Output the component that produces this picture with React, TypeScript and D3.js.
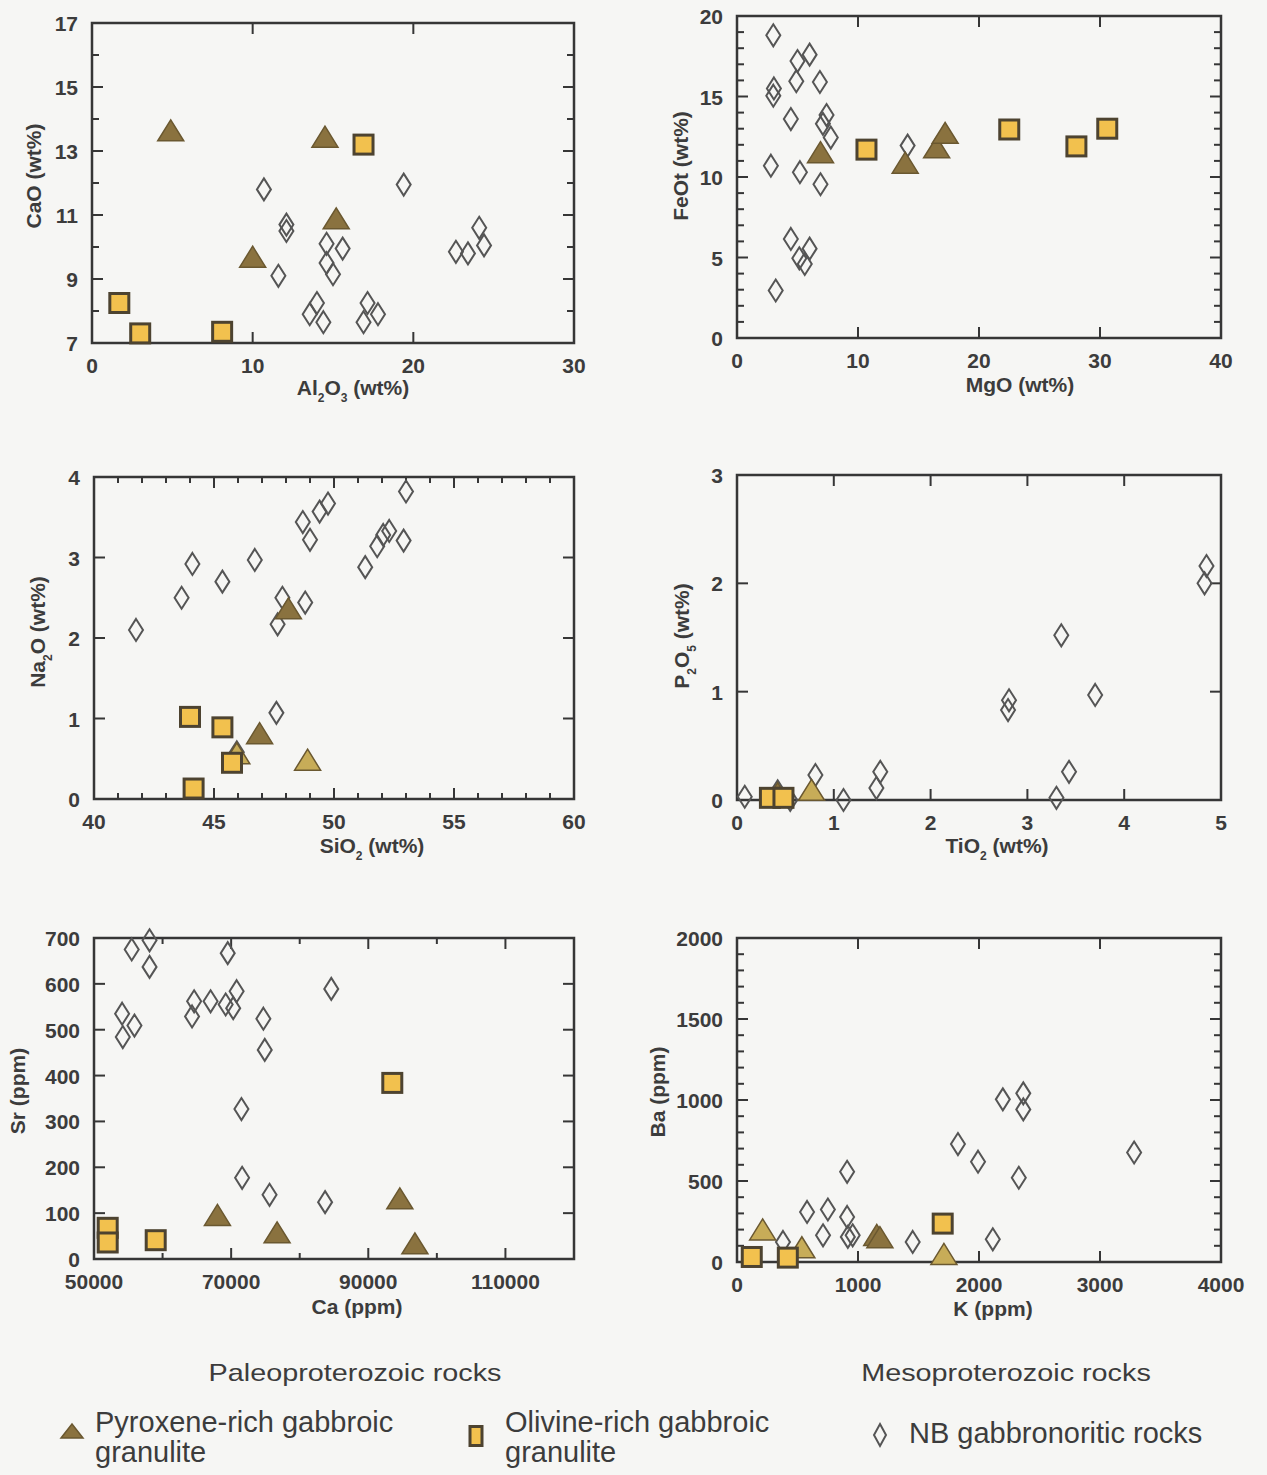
import React from 'react';
import * as d3 from 'd3';

type Pt = [number, number];

// Al2O3 vs CaO
const alCaPyx: Pt[] = [[4.9, 13.6], [14.5, 13.4], [15.2, 10.85], [10.0, 9.65]];
const alCaPyxPale: Pt[] = [];
const alCaOl: Pt[] = [[16.9, 13.2], [1.7, 8.25], [3.0, 7.3], [8.1, 7.35]];
const alCaNb: Pt[] = [
  [10.7, 11.8], [12.1, 10.7], [12.1, 10.5], [11.6, 9.1], [14.6, 10.1], [15.6, 9.95], [14.6, 9.5],
  [15.0, 9.15], [14.0, 8.25], [13.55, 7.9], [14.4, 7.65], [19.4, 11.95], [17.15, 8.25], [16.9, 7.65],
  [17.8, 7.9], [22.65, 9.85], [23.4, 9.8], [24.1, 10.6], [24.4, 10.05],
];

// MgO vs FeOt
const mgFePyx: Pt[] = [[6.9, 11.45], [13.9, 10.8], [16.5, 11.75], [17.2, 12.65]];
const mgFePyxPale: Pt[] = [];
const mgFeOl: Pt[] = [[10.7, 11.7], [22.5, 12.95], [28.05, 11.9], [30.6, 13.0]];
const mgFeNb: Pt[] = [
  [3.0, 18.8], [3.05, 15.5], [3.0, 15.05], [2.8, 10.7], [3.2, 2.95], [5.0, 17.2], [6.0, 17.6],
  [4.9, 15.95], [4.45, 13.6], [5.2, 10.3], [6.85, 15.9], [7.4, 13.85], [7.1, 13.3], [7.75, 12.45],
  [6.9, 9.55], [4.45, 6.15], [6.0, 5.55], [5.15, 4.95], [5.6, 4.6], [14.1, 11.95],
];

// SiO2 vs Na2O
const siNaPyx: Pt[] = [[48.1, 2.35], [46.9, 0.8]];
const siNaPyxPale: Pt[] = [[45.95, 0.55], [48.9, 0.47]];
const siNaOl: Pt[] = [[44.0, 1.02], [45.35, 0.89], [45.75, 0.45], [44.15, 0.13]];
const siNaNb: Pt[] = [
  [41.75, 2.1], [43.65, 2.5], [44.1, 2.92], [45.35, 2.7], [46.7, 2.97], [47.85, 2.5], [47.65, 2.17],
  [48.8, 2.44], [48.7, 3.44], [49.0, 3.22], [49.4, 3.57], [49.75, 3.67], [51.3, 2.88], [51.8, 3.14],
  [52.05, 3.28], [52.3, 3.33], [52.9, 3.21], [53.0, 3.82], [47.6, 1.07], [45.95, 0.58],
];

// TiO2 vs P2O5
const tiPPyx: Pt[] = [[0.42, 0.05]];
const tiPPyxPale: Pt[] = [[0.77, 0.08]];
const tiPOl: Pt[] = [[0.34, 0.02], [0.48, 0.02]];
const tiPNb: Pt[] = [
  [0.08, 0.03], [0.42, 0.08], [0.55, 0.0], [0.81, 0.23], [1.1, 0.0], [1.44, 0.11], [1.48, 0.26],
  [2.8, 0.83], [2.81, 0.92], [3.3, 0.02], [3.35, 1.52], [3.43, 0.26], [3.7, 0.97], [4.83, 2.0], [4.85, 2.16],
];

// Ca vs Sr
const caSrPyx: Pt[] = [[68000, 93], [76700, 55], [94600, 129], [96800, 31]];
const caSrPyxPale: Pt[] = [];
const caSrOl: Pt[] = [[52000, 68], [52000, 36], [59000, 41], [93500, 384]];
const caSrNb: Pt[] = [
  [55500, 675], [58100, 695], [58100, 637], [54100, 535], [54200, 484], [55900, 509], [64300, 529],
  [64600, 562], [67000, 562], [69200, 555], [70300, 547], [70800, 584], [69500, 667], [74700, 524],
  [74900, 456], [71500, 327], [71600, 177], [75600, 140], [83700, 124], [84600, 589],
];

// K vs Ba
const kBaPyx: Pt[] = [[1155, 158], [1181, 144]];
const kBaPyxPale: Pt[] = [[212, 192], [536, 82], [1710, 41]];
const kBaOl: Pt[] = [[122, 31], [420, 27], [1700, 237]];
const kBaNb: Pt[] = [
  [380, 124], [579, 309], [711, 165], [751, 324], [910, 557], [910, 278], [916, 155], [956, 165],
  [1452, 124], [1826, 728], [1992, 619], [2114, 140], [2197, 1004], [2329, 520], [2366, 1041],
  [2366, 942], [3282, 676],
];

const legendLabels = [['Pyroxene-rich gabbroic', 'granulite'], ['Olivine-rich gabbroic', 'granulite'], ['NB gabbronoritic rocks']];
const groupLabels = ['Paleoproterozoic rocks', 'Mesoproterozoic rocks'];

const FONT = '"Liberation Sans", Arial, Helvetica, sans-serif';
const AXIS = '#363636';
const TEXT = '#3c3c3c';
const PYX_FILL = '#8a723f';
const PYX_PALE = '#c7ac58';
const PYX_STROKE = '#6a5830';
const OL_FILL = '#f2c14e';
const OL_STROKE = '#4d4330';
const NB_STROKE = '#555555';

interface PanelDef {
  box: { left: number; right: number; top: number; bottom: number };
  xDomain: [number, number];
  yDomain: [number, number];
  xLabels: number[];
  yLabels: number[];
  xMinor: number;
  yMinor: number;
  xTitle: React.ReactNode;
  yTitle: React.ReactNode;
  xTitlePos: [number, number];
  yTitlePos: [number, number];
  pyx: Pt[];
  pyxPale: Pt[];
  ol: Pt[];
  nb: Pt[];
}

const sub = (s: string) => <tspan baselineShift="sub" fontSize={12}>{s}</tspan>;

const panels: PanelDef[] = [
  {
    box: { left: 92, right: 574, top: 23, bottom: 343 },
    xDomain: [0, 30], yDomain: [7, 17],
    xLabels: [0, 10, 20, 30], yLabels: [7, 9, 11, 13, 15, 17],
    xMinor: 10, yMinor: 1,
    xTitle: <>Al{sub('2')}O{sub('3')} (wt%)</>, yTitle: <>CaO (wt%)</>,
    xTitlePos: [353, 395], yTitlePos: [41, 176],
    pyx: alCaPyx, pyxPale: alCaPyxPale, ol: alCaOl, nb: alCaNb,
  },
  {
    box: { left: 737, right: 1221, top: 16, bottom: 338 },
    xDomain: [0, 40], yDomain: [0, 20],
    xLabels: [0, 10, 20, 30, 40], yLabels: [0, 5, 10, 15, 20],
    xMinor: 10, yMinor: 1,
    xTitle: <>MgO (wt%)</>, yTitle: <>FeOt (wt%)</>,
    xTitlePos: [1020, 392], yTitlePos: [688, 166],
    pyx: mgFePyx, pyxPale: mgFePyxPale, ol: mgFeOl, nb: mgFeNb,
  },
  {
    box: { left: 94, right: 574, top: 477, bottom: 799 },
    xDomain: [40, 60], yDomain: [0, 4],
    xLabels: [40, 45, 50, 55, 60], yLabels: [0, 1, 2, 3, 4],
    xMinor: 1, yMinor: 1,
    xTitle: <>SiO{sub('2')} (wt%)</>, yTitle: <>Na{sub('2')}O (wt%)</>,
    xTitlePos: [372, 853], yTitlePos: [45, 632],
    pyx: siNaPyx, pyxPale: siNaPyxPale, ol: siNaOl, nb: siNaNb,
  },
  {
    box: { left: 737, right: 1221, top: 475, bottom: 800 },
    xDomain: [0, 5], yDomain: [0, 3],
    xLabels: [0, 1, 2, 3, 4, 5], yLabels: [0, 1, 2, 3],
    xMinor: 1, yMinor: 1,
    xTitle: <>TiO{sub('2')} (wt%)</>, yTitle: <>P{sub('2')}O{sub('5')} (wt%)</>,
    xTitlePos: [997, 853], yTitlePos: [689, 636],
    pyx: tiPPyx, pyxPale: tiPPyxPale, ol: tiPOl, nb: tiPNb,
  },
  {
    box: { left: 94, right: 574, top: 938, bottom: 1259 },
    xDomain: [50000, 120000], yDomain: [0, 700],
    xLabels: [50000, 70000, 90000, 110000], yLabels: [0, 100, 200, 300, 400, 500, 600, 700],
    xMinor: 10000, yMinor: 100,
    xTitle: <>Ca (ppm)</>, yTitle: <>Sr (ppm)</>,
    xTitlePos: [357, 1314], yTitlePos: [25, 1091],
    pyx: caSrPyx, pyxPale: caSrPyxPale, ol: caSrOl, nb: caSrNb,
  },
  {
    box: { left: 737, right: 1221, top: 938, bottom: 1262 },
    xDomain: [0, 4000], yDomain: [0, 2000],
    xLabels: [0, 1000, 2000, 3000, 4000], yLabels: [0, 500, 1000, 1500, 2000],
    xMinor: 1000, yMinor: 100,
    xTitle: <>K (ppm)</>, yTitle: <>Ba (ppm)</>,
    xTitlePos: [993, 1316], yTitlePos: [665, 1092],
    pyx: kBaPyx, pyxPale: kBaPyxPale, ol: kBaOl, nb: kBaNb,
  },
];

const Diamond = ({ x, y, w = 7, h = 11 }: { x: number; y: number; w?: number; h?: number }) => (
  <path d={`M${x},${y - h} L${x + w},${y} L${x},${y + h} L${x - w},${y} Z`}
    fill="none" stroke={NB_STROKE} strokeWidth={2} />
);
const Triangle = ({ x, y, w = 13, h = 21, fill = PYX_FILL }: { x: number; y: number; w?: number; h?: number; fill?: string }) => (
  <path d={`M${x},${y - h * 0.57} L${x + w},${y + h * 0.43} L${x - w},${y + h * 0.43} Z`}
    fill={fill} stroke={PYX_STROKE} strokeWidth={1.5} />
);
const Square = ({ x, y, w = 19, h = 19 }: { x: number; y: number; w?: number; h?: number }) => (
  <rect x={x - w / 2} y={y - h / 2} width={w} height={h} fill={OL_FILL} stroke={OL_STROKE} strokeWidth={3} />
);

const Panel = ({ p }: { p: PanelDef }) => {
  const { left, right, top, bottom } = p.box;
  const x = d3.scaleLinear().domain(p.xDomain).range([left, right]);
  const y = d3.scaleLinear().domain(p.yDomain).range([bottom, top]);
  const eps = 1e-6;
  const xTicks = d3.range(p.xDomain[0], p.xDomain[1] + eps, p.xMinor);
  const yTicks = d3.range(p.yDomain[0], p.yDomain[1] + eps, p.yMinor);
  const isXMajor = (v: number) => p.xLabels.some(l => Math.abs(l - v) < eps);
  const isYMajor = (v: number) => p.yLabels.some(l => Math.abs(l - v) < eps);
  return (
    <g>
      {xTicks.map((v, i) => {
        const len = isXMajor(v) ? 11 : 6;
        return (
          <g key={'xt' + i}>
            <line x1={x(v)} x2={x(v)} y1={bottom} y2={bottom - len} stroke={AXIS} strokeWidth={2} />
            <line x1={x(v)} x2={x(v)} y1={top} y2={top + len} stroke={AXIS} strokeWidth={2} />
          </g>
        );
      })}
      {yTicks.map((v, i) => {
        const len = isYMajor(v) ? 11 : 7;
        return (
          <g key={'yt' + i}>
            <line x1={left} x2={left + len} y1={y(v)} y2={y(v)} stroke={AXIS} strokeWidth={2} />
            <line x1={right} x2={right - len} y1={y(v)} y2={y(v)} stroke={AXIS} strokeWidth={2} />
          </g>
        );
      })}
      <rect x={left} y={top} width={right - left} height={bottom - top} fill="none" stroke={AXIS} strokeWidth={2.5} />
      {p.xLabels.map(v => (
        <text key={'xl' + v} x={x(v)} y={bottom + 30} textAnchor="middle" fontSize={21} fontWeight="bold" fill={TEXT}>{v}</text>
      ))}
      {p.yLabels.map(v => (
        <text key={'yl' + v} x={left - 14} y={y(v) + 8} textAnchor="end" fontSize={21} fontWeight="bold" fill={TEXT}>{v}</text>
      ))}
      <text x={p.xTitlePos[0]} y={p.xTitlePos[1]} textAnchor="middle" fontSize={21} fontWeight="bold" fill={TEXT}>{p.xTitle}</text>
      <text transform={`translate(${p.yTitlePos[0]},${p.yTitlePos[1]}) rotate(-90)`} textAnchor="middle" fontSize={21} fontWeight="bold" fill={TEXT}>{p.yTitle}</text>
      {p.nb.map((d, i) => <Diamond key={'nb' + i} x={x(d[0])} y={y(d[1])} />)}
      {p.pyx.map((d, i) => <Triangle key={'px' + i} x={x(d[0])} y={y(d[1])} />)}
      {p.pyxPale.map((d, i) => <Triangle key={'pp' + i} x={x(d[0])} y={y(d[1])} fill={PYX_PALE} />)}
      {p.ol.map((d, i) => <Square key={'ol' + i} x={x(d[0])} y={y(d[1])} />)}
    </g>
  );
};

export default function App() {
  return (
    <svg width={1267} height={1475} style={{ position: 'absolute', left: 0, top: 0 }} fontFamily={FONT}>
      <rect width={1267} height={1475} fill="#f6f6f4" />
      {panels.map((p, i) => <Panel key={i} p={p} />)}
      <text transform="translate(355,1381) scale(1.2,1)" textAnchor="middle" fontSize={24} fill={TEXT}>{groupLabels[0]}</text>
      <text transform="translate(1006,1381) scale(1.2,1)" textAnchor="middle" fontSize={24} fill={TEXT}>{groupLabels[1]}</text>
      <Triangle x={72} y={1432} w={11} h={14} />
      <text x={95} y={1432} fontSize={29} fill={TEXT}>{legendLabels[0][0]}</text>
      <text x={95} y={1462} fontSize={29} fill={TEXT}>{legendLabels[0][1]}</text>
      <Square x={476} y={1436} w={12} h={19} />
      <text x={505} y={1432} fontSize={29} fill={TEXT}>{legendLabels[1][0]}</text>
      <text x={505} y={1462} fontSize={29} fill={TEXT}>{legendLabels[1][1]}</text>
      <Diamond x={880} y={1435} w={6} h={11} />
      <text x={909} y={1443} fontSize={29} fill={TEXT}>{legendLabels[2][0]}</text>
    </svg>
  );
}
